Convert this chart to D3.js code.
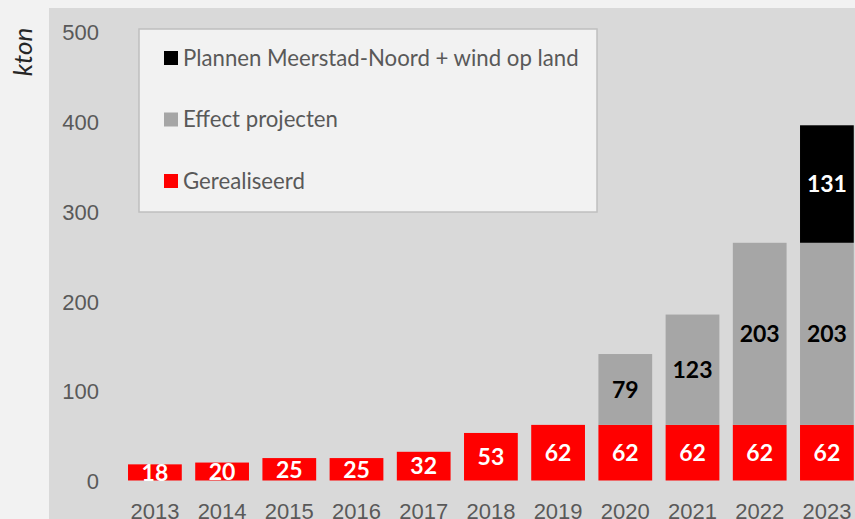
<!DOCTYPE html>
<html>
<head>
<meta charset="utf-8">
<script src="https://cdn.jsdelivr.net/npm/d3@7"></script>
<style>
  body { margin: 0; background: #f2f2f2; overflow: hidden; }
  svg { display: block; font-family: Lato, "Open Sans", sans-serif; }
  .tick text { fill: #595959; font-size: 22px; }
  .barlabel { font-weight: bold; font-size: 23px; text-anchor: middle; }
  .legendtext { fill: #595959; font-size: 22.2px; }
</style>
</head>
<body>
<div id="main_div"></div>
<script>
/** data **/
const years = ["2013", "2014", "2015", "2016", "2017", "2018", "2019", "2020", "2021", "2022", "2023"];
const gerealiseerd = [18, 20, 25, 25, 32, 53, 62, 62, 62, 62, 62];
const effectProjecten = [0, 0, 0, 0, 0, 0, 0, 79, 123, 203, 203];
const plannen = [0, 0, 0, 0, 0, 0, 0, 0, 0, 0, 131];
const yTicks = [0, 100, 200, 300, 400, 500];
const seriesNames = ["Gerealiseerd", "Effect projecten", "Plannen Meerstad-Noord + wind op land"];
const seriesColors = ["#ff0000", "#a6a6a6", "#000000"];
const labelColors = ["#ffffff", "#000000", "#ffffff"];

const width = 855, height = 519;

let svg = d3.select("#main_div")
    .append("svg")
    .attr("width", width)
    .attr("height", height);

// plot area background
svg.append("rect")
    .attr("x", 49).attr("y", 8)
    .attr("width", width - 49).attr("height", height - 8)
    .attr("fill", "#d9d9d9");

let xScale = d3.scaleBand()
    .domain(years)
    .range([121.3, 860.5])
    .paddingInner(0.2)
    .paddingOuter(0.1);

let yScale = d3.scaleLinear()
    .domain([0, 500])
    .range([480.5, 32]);

// build rows for stacking
let rows = years.map(function (y, i) {
    return { year: y, s0: gerealiseerd[i], s1: effectProjecten[i], s2: plannen[i] };
});
let stacked = d3.stack().keys(["s0", "s1", "s2"])(rows);

/** axes **/
let yAxis = d3.axisLeft(yScale).tickValues(yTicks).tickSize(0).tickPadding(0);
svg.append("g")
    .attr("transform", "translate(99,0)")
    .call(yAxis)
    .call(g => g.select(".domain").remove())
    .selectAll("text").attr("dy", "0.36em");

let xAxis = d3.axisBottom(xScale).tickSize(0).tickPadding(0);
svg.append("g")
    .attr("transform", "translate(0,503)")
    .call(xAxis)
    .call(g => g.select(".domain").remove())
    .selectAll("text").attr("dy", "0.71em");

svg.append("text")
    .attr("transform", "translate(32,52) rotate(-90)")
    .attr("text-anchor", "middle")
    .style("font-style", "italic")
    .style("font-size", "26px")
    .attr("fill", "#262626")
    .text("kton");

/** bars **/
let layers = svg.selectAll(".layer")
    .data(stacked)
    .enter().append("g")
    .attr("class", "layer")
    .attr("fill", (d, i) => seriesColors[i]);

layers.selectAll("rect")
    .data(d => d.filter(p => p[1] > p[0]))
    .enter().append("rect")
    .attr("x", d => xScale(d.data.year))
    .attr("y", d => yScale(d[1]))
    .attr("width", xScale.bandwidth())
    .attr("height", d => yScale(d[0]) - yScale(d[1]));

layers.each(function (layer, i) {
    d3.select(this).selectAll("text")
        .data(layer.filter(p => p[1] > p[0]))
        .enter().append("text")
        .attr("class", "barlabel")
        .attr("fill", labelColors[i])
        .attr("x", d => xScale(d.data.year) + xScale.bandwidth() / 2)
        .attr("y", d => (yScale(d[0]) + yScale(d[1])) / 2)
        .attr("dy", "0.36em")
        .text(d => d[1] - d[0]);
});

/** legend **/
svg.append("rect")
    .attr("x", 139).attr("y", 29)
    .attr("width", 458).attr("height", 183)
    .attr("fill", "#f2f2f2")
    .attr("stroke", "#bfbfbf")
    .attr("stroke-width", 1.5);

let legendOrder = [2, 1, 0];
legendOrder.forEach(function (s, i) {
    let cy = 58 + i * 61.5;
    svg.append("rect")
        .attr("x", 164).attr("y", cy - 7)
        .attr("width", 14).attr("height", 14)
        .attr("fill", seriesColors[s]);
    svg.append("text")
        .attr("class", "legendtext")
        .attr("x", 183).attr("y", cy)
        .attr("dy", "0.36em")
        .text(seriesNames[s]);
});
</script>
</body>
</html>
